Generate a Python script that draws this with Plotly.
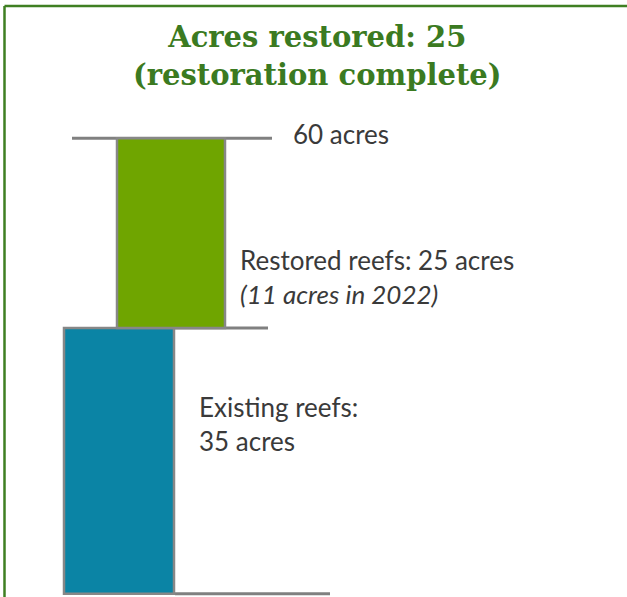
import plotly.graph_objects as go

# ---- data ----
categories = ["Existing reefs", "Restored reefs"]
bases = [0, 35]
values = [35, 25]
total = 60
fills = ["#0b84a5", "#6fa500"]

W, H = 627, 597
# linear mapping chosen so data values land near reference positions
px_per_acre = 7.59
zero_px = 593.7
y_top = zero_px / px_per_acre
y_bot = -(H - zero_px) / px_per_acre

fig = go.Figure()
bar_x = [119, 171]
bar_w = [110, 108]
for i, cat in enumerate(categories):
    fig.add_trace(go.Bar(
        x=[bar_x[i]], y=[values[i]], base=[bases[i]], width=[bar_w[i]],
        name=cat, marker=dict(color=fills[i], line=dict(color="#878787", width=2.5)),
        showlegend=False, hoverinfo="skip",
    ))

gray = "#808080"
line_specs = [(total, 72, 272), (bases[1], 175, 268), (0, 175, 330)]
for yv, x0, x1 in line_specs:
    fig.add_shape(type="line", xref="x", yref="y", x0=x0, x1=x1, y0=yv, y1=yv,
                  line=dict(color=gray, width=3), layer="below")

txt_font = dict(family="Lato, Carlito, sans-serif", size=26, color="#3a3a3a")

def ann(text, x, ypx):
    fig.add_annotation(text=text, xref="x", yref="paper", x=x, y=1 - ypx / H,
                       xanchor="left", yanchor="middle", showarrow=False,
                       align="left", font=txt_font)

ann(f"{total} acres", 291, 134)
ann(f"Restored reefs: {values[1]} acres<br><i>(11 acres in 2022)</i>", 238, 277)
ann(f"Existing reefs:<br>{values[0]} acres", 197, 424)

fig.add_annotation(text="<b>Acres restored: 25<br>(restoration complete)</b>",
                   xref="paper", yref="paper", x=0.507, y=1 - 56 / H,
                   xanchor="center", yanchor="middle", showarrow=False,
                   font=dict(family="DejaVu Serif, serif", size=29, color="#3b7a21"))

# frame (top + left borders)
fig.add_shape(type="line", xref="paper", yref="paper", x0=4.5 / W, x1=1, y0=1 - 6 / H, y1=1 - 6 / H,
              line=dict(color="#3f7f22", width=2.5))
fig.add_shape(type="line", xref="paper", yref="paper", x0=4.5 / W, x1=4.5 / W, y0=0, y1=1 - 6 / H,
              line=dict(color="#3f7f22", width=2.5))

fig.update_layout(
    width=W, height=H, margin=dict(l=0, r=0, t=0, b=0),
    paper_bgcolor="white", plot_bgcolor="white", barmode="overlay",
    xaxis=dict(range=[0, W], visible=False, fixedrange=True),
    yaxis=dict(range=[y_bot, y_top], visible=False, fixedrange=True),
)
fig.write_html("out.html", config={"displayModeBar": False},
               post_script="document.body.style.margin='0px';document.body.style.overflow='hidden';")
